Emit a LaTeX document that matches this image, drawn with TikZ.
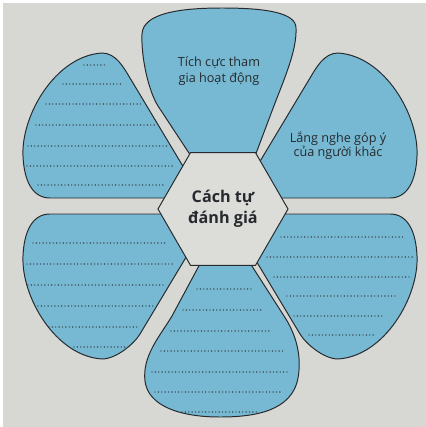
\documentclass[tikz,border=0pt]{standalone}
\usepackage{fontspec}
\setmainfont{Open Sans}
\usetikzlibrary{shapes.geometric}

\definecolor{petalblue}{RGB}{119,185,210}
\definecolor{paper}{RGB}{215,215,211}
\definecolor{hexgray}{RGB}{220,220,217}
\definecolor{ink}{RGB}{38,42,46}

\begin{document}
\begin{tikzpicture}[x=0.025cm, y=-0.025cm]
  \tikzset{
    petal/.style={draw=ink, fill=petalblue, line width=0.7pt},
    dotrow/.style={ink, line width=1pt, line cap=round, dash pattern=on 0pt off 2.4pt},
    petaltext/.style={align=center, text=ink, font=\fontsize{9}{#1}\selectfont},
    hubtext/.style={draw=ink, fill=hexgray, line width=0.7pt, regular polygon,
      regular polygon sides=6, minimum size=3.25cm, inner sep=0pt, align=center,
      text=ink, font=\fontsize{11.5}{15}\selectfont\bfseries},
  }

  \useasboundingbox (0,0) rectangle (426,427);
  \fill[white] (0,0) rectangle (426,427);
  \fill[paper] (3,3) rectangle (426,427);

  \coordinate (O) at (220,206);

  % top and bottom petals
  \draw[petal, shift={(O)}] (23,-18) -- (52,-95) .. controls (64,-127) and (77,-155) .. (76,-178)
    .. controls (76,-193) and (47,-198) .. (2,-198) .. controls (-43,-198) and (-77,-192) .. (-78,-172)
    .. controls (-79,-150) and (-72,-116) .. (-62,-100) -- (-8,-18) -- cycle;
  \draw[petal, shift={(O)}] (3,15) -- (64,110) .. controls (76,128) and (82,150) .. (78,172)
    .. controls (72,205) and (35,211) .. (0,211) .. controls (-40,211) and (-72,200) .. (-75,175)
    .. controls (-78,150) and (-60,130) .. (-48,110) -- cycle;

  % four side petals, mirrored
  \foreach \sx/\sy/\px/\qx in {1/1/18/90, -1/1/18/90, 1/-1/8/80, -1/-1/8/80}
    \draw[petal, shift={(O)}, xscale=\sx, yscale=\sy]
      (\px,-8) -- (170,-8) .. controls (188,-8) and (196,-26) .. (197,-50)
      .. controls (199,-90) and (165,-150) .. (118,-153)
      .. controls (104,-153) and (\qx+6,-138) .. (\qx,-128) -- cycle;

  % dotted writing lines
  \foreach \y/\a/\b in {65/84/107, 84/63/123, 104/46/143, 125/36/155, 146/28/167, 166/27/175, 185/38/165,
      243/33/167, 264/27/174, 285/28/166, 306/38/153, 327/49/140, 347/74/127,
      289/197/253, 310/183/262, 331/171/272, 351/161/285, 372/152/290, 392/155/282, 412/182/258,
      237/281/404, 257/267/413, 277/274/410, 296/287/397, 316/294/384, 335/309/374}
    \draw[dotrow] (\a,\y) -- (\b,\y);

  \node[petaltext=11.5pt] (active) at (219,71) {Tích cực tham\\gia hoạt động};
  \node[petaltext=10pt] (listen) at (338,146) {Lắng nghe góp ý\\của người khác};
  \node[hubtext] (hub) at (223,209) {Cách tự\\đánh giá};

\end{tikzpicture}
\end{document}
